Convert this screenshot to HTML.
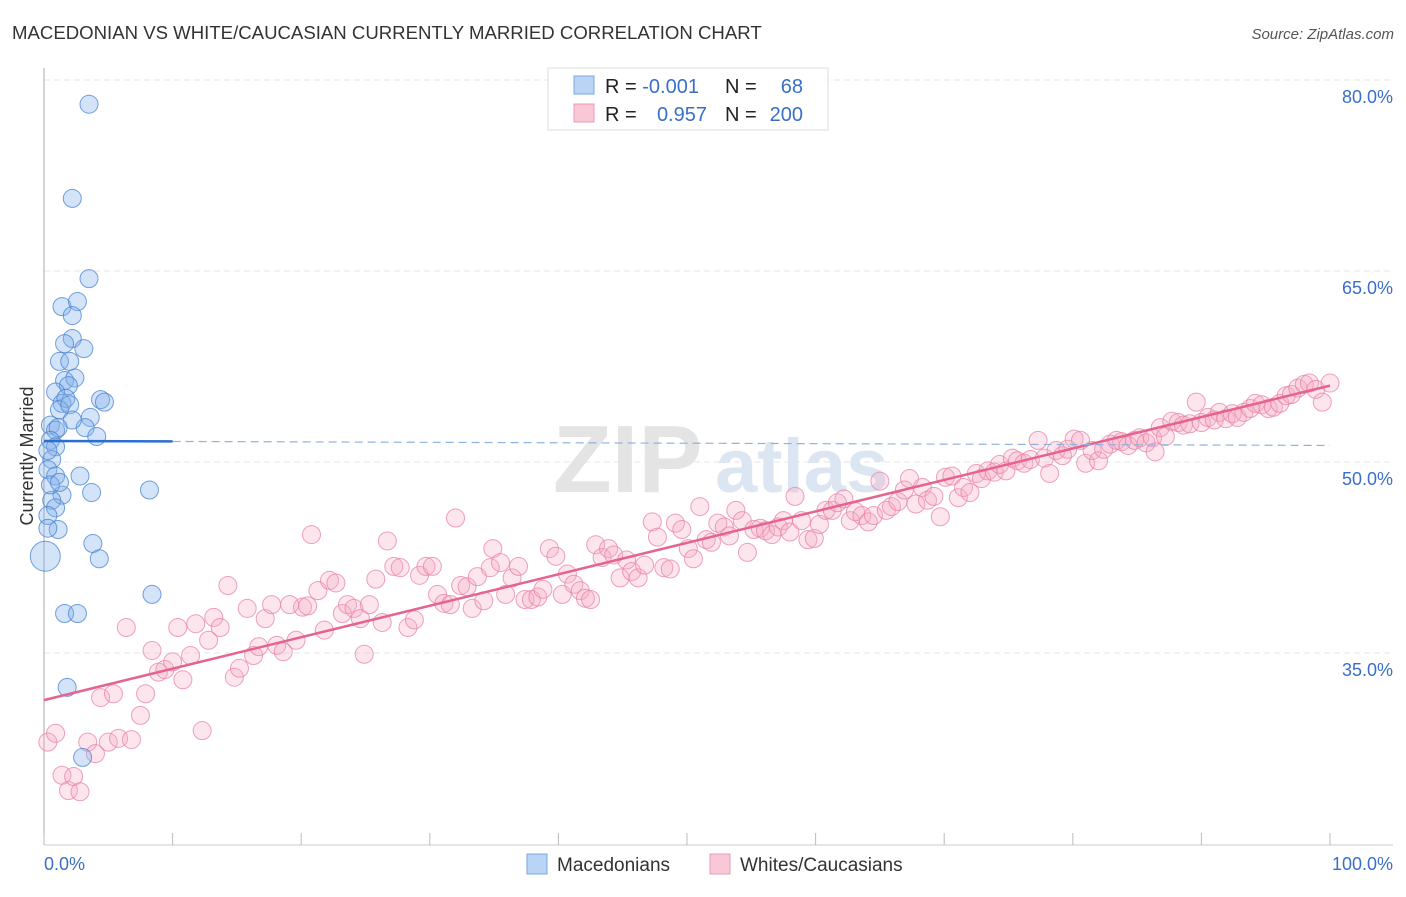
<!DOCTYPE html>
<html><head><meta charset="utf-8">
<style>
body{margin:0;background:#fff;font-family:"Liberation Sans",sans-serif;}
svg text{font-family:"Liberation Sans",sans-serif;}
</style></head>
<body>
<svg id="chart" width="1406" height="892" xmlns="http://www.w3.org/2000/svg">
<text x="12" y="39" font-size="18.6" fill="#333">MACEDONIAN VS WHITE/CAUCASIAN CURRENTLY MARRIED CORRELATION CHART</text>
<text x="1394" y="39" font-size="15" fill="#555" text-anchor="end" font-style="italic">Source: ZipAtlas.com</text>
<g id="grid"></g>
<text x="553" y="492" font-size="96" font-family="Liberation Serif" fill="#e4e4e4" font-weight="bold">ZIP</text>
<text x="715" y="492" font-size="76" fill="#dce6f2" font-weight="bold">atlas</text>
<text transform="translate(33,456) rotate(-90)" font-size="18" fill="#333" text-anchor="middle">Currently Married</text>
<g id="pink"></g>
<g id="blue"></g>
<g id="trend"></g>
<g>
<rect x="548" y="68" width="280" height="62" fill="#fff" stroke="#ddd"/>
<rect x="574" y="76" width="20" height="18" fill="#b9d4f4" stroke="#7aa8e0"/>
<rect x="574" y="104" width="20" height="18" fill="#f9c8d6" stroke="#ec9ab3"/>
<text x="605" y="93" font-size="20" fill="#222">R = <tspan fill="#3a6fc9">-0.001</tspan></text>
<text x="725" y="93" font-size="20" fill="#222">N = </text><text x="803" y="93" font-size="20" fill="#3a6fc9" text-anchor="end">68</text>
<text x="605" y="121" font-size="20" fill="#222">R = </text><text x="707" y="121" font-size="20" fill="#3a6fc9" text-anchor="end">0.957</text>
<text x="725" y="121" font-size="20" fill="#222">N = </text><text x="803" y="121" font-size="20" fill="#3a6fc9" text-anchor="end">200</text>
</g>
<g>
<rect x="527" y="854" width="20" height="20" fill="#b9d4f4" stroke="#7aa8e0"/>
<text x="557" y="871" font-size="19" fill="#333">Macedonians</text>
<rect x="710" y="854" width="20" height="20" fill="#f9c8d6" stroke="#ec9ab3"/>
<text x="740" y="871" font-size="19" fill="#333">Whites/Caucasians</text>
</g>
</svg>
<script>
const yTicks=[35,50,65,80];
const xTickLabels=["0.0%","100.0%"];
const blueX=[3.5,2.2,3.5,1.4,2.6,2.2,2.2,3.1,1.6,1.2,2.0,1.6,2.4,1.9,0.9,1.4,1.7,1.2,2.0,4.4,4.7,3.6,3.2,2.2,0.5,0.9,1.1,4.1,0.5,0.9,0.6,0.3,0.9,2.8,3.7,8.2,1.4,0.6,0.9,0.3,1.1,0.3,3.8,4.3,0.1,8.4,1.6,2.6,1.8,3.0,0.5,1.2,0.3];
const blueY=[78.1,70.7,64.4,62.2,62.6,61.5,59.7,58.9,59.3,57.9,57.9,56.4,56.6,56.0,55.5,54.6,55.0,54.1,54.5,54.9,54.7,53.5,52.7,53.3,52.9,52.5,52.7,52.0,51.7,51.2,50.2,49.4,48.9,48.9,47.6,47.8,47.4,47.0,46.4,45.8,44.7,44.8,43.6,42.4,42.6,39.6,38.1,38.1,32.3,26.8,48.2,48.4,50.9];
const blueBig=[44];
const pinkX=[0.3,0.9,1.4,1.9,2.3,2.8,3.4,4.0,4.4,5.0,5.4,5.8,6.4,6.8,7.5,7.9,8.4,8.9,9.4,10.0,10.4,10.8,11.4,11.8,12.3,12.8,13.2,13.7,14.3,14.8,15.2,15.8,16.3,16.7,17.2,17.7,18.1,18.6,19.1,19.6,20.1,20.5,20.8,21.3,21.8,22.2,22.7,23.2,23.6,24.1,24.6,24.9,25.3,25.8,26.3,26.7,27.2,27.7,28.3,28.8,29.2,29.7,30.2,30.6,31.1,31.6,32.0,32.4,32.9,33.3,33.7,34.2,34.7,34.9,35.5,35.9,36.4,36.9,37.4,37.9,38.4,38.8,39.3,39.8,40.3,40.7,41.2,41.7,42.1,42.5,42.9,43.4,43.9,44.3,44.8,45.3,45.7,46.2,46.7,47.3,47.7,48.2,48.7,49.1,49.6,50.1,50.5,51.0,51.5,51.9,52.4,52.9,53.3,53.8,54.3,54.7,55.2,55.7,56.1,56.6,57.1,57.5,58.0,58.4,58.9,59.4,59.9,60.3,60.8,61.3,61.7,62.2,62.7,63.1,63.6,64.1,64.5,65.0,65.5,65.9,66.4,66.9,67.3,67.8,68.3,68.7,69.2,69.7,70.1,70.6,71.1,71.5,72.0,72.5,72.9,73.4,73.9,74.3,74.8,75.3,75.7,76.2,76.7,77.3,77.8,78.2,78.7,79.2,79.6,80.1,80.6,81.0,81.5,82.0,82.4,82.9,83.4,83.8,84.3,84.8,85.2,85.7,86.2,86.4,86.8,87.2,87.7,88.2,88.6,89.1,89.6,90.0,90.5,91.0,91.4,91.9,92.4,92.8,93.3,93.8,94.2,94.7,95.2,95.6,96.1,96.6,97.0,97.5,98.0,98.4,98.9,99.4,100.0];
const pinkY=[28.0,28.7,25.4,24.2,25.3,24.1,28.0,27.1,31.5,28.0,31.8,28.3,37.0,28.2,30.1,31.8,35.2,33.5,33.7,34.3,37.0,32.9,34.8,37.3,28.9,36.0,37.8,37.0,40.3,33.1,33.8,38.5,34.8,35.5,37.7,38.8,35.6,35.1,38.8,36.0,38.6,38.7,44.3,39.9,36.8,40.7,40.5,38.1,38.8,38.5,37.7,34.9,38.8,40.8,37.4,43.8,41.8,41.7,37.0,37.6,41.1,41.8,41.8,39.6,38.9,38.8,45.6,40.3,40.2,38.5,41.0,39.1,41.7,43.2,42.1,39.6,40.9,41.8,39.2,39.2,39.4,40.0,43.2,42.6,39.6,41.2,40.4,39.9,39.3,39.2,43.5,42.5,43.2,42.7,40.9,42.3,41.4,40.9,41.9,45.3,44.1,41.7,41.6,45.2,44.7,43.2,42.4,46.5,43.9,43.7,45.2,44.9,44.2,46.2,45.4,42.9,44.7,44.8,44.6,44.3,44.9,45.4,44.5,47.3,45.4,43.9,44.0,45.1,46.2,46.2,46.8,47.1,45.4,46.1,45.8,45.3,45.8,48.5,46.2,46.5,46.9,47.8,48.7,46.7,48.0,47.0,47.3,45.7,48.8,48.9,47.2,48.0,47.6,49.1,48.7,49.3,49.2,49.8,49.3,50.3,50.1,49.9,50.2,51.7,50.3,49.1,50.9,50.5,51.0,51.8,51.7,49.9,50.9,50.1,51.0,51.4,51.7,51.6,51.3,51.7,51.9,51.5,51.9,50.8,52.7,52.0,53.2,53.1,52.9,53.0,54.7,53.1,53.5,53.3,53.9,53.4,53.8,53.5,53.9,54.2,54.6,54.5,54.2,54.3,54.6,55.2,55.3,55.8,56.1,56.2,55.7,54.7,56.2];
const blueTrend=[51.65,51.3];
const pinkTrend=[31.3,56.0];

const NS="http://www.w3.org/2000/svg";
const X0=44,X1=1330,Y80=80,PX15=191;
function sx(v){return X0+(X1-X0)*v/100;}
function sy(v){return Y80+(80-v)*PX15/15;}
function mk(tag,attrs,parent){const e=document.createElementNS(NS,tag);for(const k in attrs)e.setAttribute(k,attrs[k]);parent.appendChild(e);return e;}
const grid=document.getElementById('grid');
yTicks.forEach(t=>{
  const l=mk('line',{x1:44,x2:1393,y1:sy(t),y2:sy(t),stroke:'#e6e6e6','stroke-dasharray':'6,4'},grid);
  
  
  const tx=mk('text',{x:1393,y:sy(t)+23,'font-size':18,fill:'#3a6fc9','text-anchor':'end'},grid);
  tx.textContent=t.toFixed(1)+'%';
  
  
});
const ax=mk('line',{x1:44,x2:44,y1:68,y2:845,stroke:'#aaa'},grid);


const bx=mk('line',{x1:44,x2:1393,y1:845,y2:845,stroke:'#ccc'},grid);


for(let i=0;i<=10;i++){
  const t=mk('line',{x1:sx(i*10),x2:sx(i*10),y1:833,y2:845,stroke:'#bbb'},grid);
  
  
}
[0,100].forEach((v,i)=>{
  const t=mk('text',{x:i?1393:44,y:870,'font-size':18,fill:'#3a6fc9','text-anchor':i?'end':'start'},grid);
  t.textContent=xTickLabels[i];
  
  
});
const pg=document.getElementById('pink');
pinkX.forEach((v,i)=>{
  const c=mk('circle',{cx:sx(v),cy:sy(pinkY[i]),r:9,fill:'rgba(246,170,195,0.3)',stroke:'rgba(232,130,165,0.75)','stroke-width':1},pg);
  
  
});
const bg=document.getElementById('blue');
blueX.forEach((v,i)=>{
  const big=blueBig.includes(i);
  const c=mk('circle',{cx:sx(v),cy:sy(blueY[i]),r:big?15:9,fill:'rgba(130,175,235,0.35)',stroke:'rgba(70,130,210,0.75)','stroke-width':1},bg);
  
  
});
const tg=document.getElementById('trend');
const p=mk('line',{x1:sx(0),y1:sy(pinkTrend[0]),x2:sx(100),y2:sy(pinkTrend[1]),stroke:'#e5638e','stroke-width':2.5},tg);


const bs=(blueTrend[1]-blueTrend[0])/100;
const b1=mk('line',{x1:sx(0),y1:sy(blueTrend[0]),x2:sx(10),y2:sy(blueTrend[0]+bs*10),stroke:'#2a6fd0','stroke-width':2.5},tg);


const b2=mk('line',{x1:sx(10),y1:sy(blueTrend[0]+bs*10),x2:sx(100),y2:sy(blueTrend[1]),stroke:'#8fb2e0','stroke-width':1.2,'stroke-dasharray':'8,5'},tg);


</script>
</body></html>
